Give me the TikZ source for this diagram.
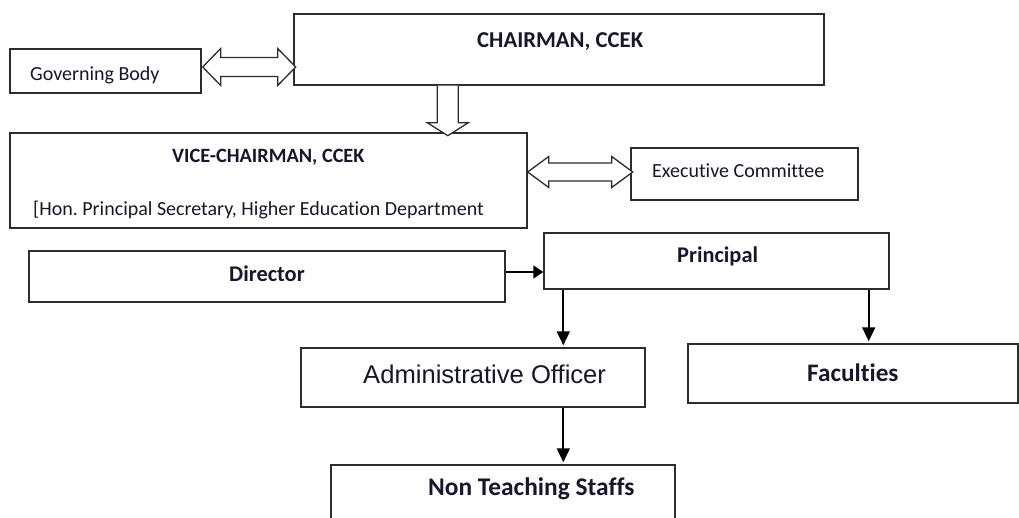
\documentclass[tikz,border=0pt]{standalone}
\usepackage{fontspec}
\setmainfont{Carlito}[Ligatures=NoCommon]
\newfontfamily\arialf{Liberation Sans}
\usetikzlibrary{arrows.meta,calc}
\definecolor{txt}{RGB}{22,22,45}
\definecolor{ln}{RGB}{45,45,45}
\frenchspacing
\begin{document}
\begin{tikzpicture}[x=1pt,y=-1pt,
  box/.style={draw=ln,line width=1.4pt,rectangle,inner sep=0pt,fill=white},
  lbl/.style={inner sep=0pt,anchor=base west,text=txt,font=\fontsize{20}{24}\selectfont},
  blbl/.style={lbl,font=\fontsize{#1}{24}\selectfont\bfseries},
  fat/.style={draw=ln,line width=1.3pt,fill=white},
  conn/.style={draw=black,line width=1.8pt,-{Triangle[length=14pt,width=13pt]}}]
\useasboundingbox (0,0) rectangle (1019,518);
\clip (0,0) rectangle (1019,518);
% boxes
\node[box,minimum width=191,minimum height=44] (gb) at (105.5,71) {};
\node[box,minimum width=530,minimum height=71] (ch) at (559,49.5) {};
\node[box,minimum width=517,minimum height=95] (vc) at (268.5,180.5) {};
\node[box,minimum width=227,minimum height=52] (ec) at (744.5,174) {};
\node[box,minimum width=476,minimum height=51] (dir) at (267,276.5) {};
\node[box,minimum width=345,minimum height=56] (pr) at (716.5,261) {};
\node[box,minimum width=344,minimum height=59] (ao) at (473,377.5) {};
\node[box,minimum width=330,minimum height=59] (fa) at (853,373.5) {};
\node[box,minimum width=344,minimum height=80] (nt) at (503,505) {};
% texts
\node[lbl] (tgb) at (30,81) {Governing Body};
\node[blbl=22.7] (tch) at (477,48) {CHAIRMAN, CCEK};
\node[blbl=20.3] (tvc) at (172,163) {VICE-CHAIRMAN, CCEK};
\node[lbl] (tvc2) at (33,216) {[Hon. Principal Secretary, Higher Education Department};
\node[lbl] (tec) at (652,178) {Executive Committee};
\node[blbl=22.4] (tdir) at (229,282) {Director};
\node[blbl=22.4] (tpr) at (677,263) {Principal};
\node[lbl,font=\arialf\fontsize{25.6}{30}\selectfont] (tao) at (363,383) {Administrative Officer};
\node[blbl=25.2] (tfa) at (807,381) {Faculties};
\node[blbl=25.4] (tnt) at (428,495) {Non Teaching Staffs};
% fat arrows
\draw[fat] ($(gb.east)+(1,-4)$) -- ++(18,-18.5) -- ++(0,9) -- ++(57,0) -- ++(0,-9) -- ++(18,18.5)
  -- ++(-18,18.5) -- ++(0,-9) -- ++(-57,0) -- ++(0,9) -- cycle;
\draw[fat] ($(ch.south west)+(144,0)$) -- ++(0,37) -- ++(-10,0) -- ++(20.5,13) -- ++(20.5,-13)
  -- ++(-10,0) -- ++(0,-37);
\draw[fat] ($(vc.east|-ec.west)+(0,-2)$) -- ++(21,-15.5) -- ++(0,6.5) -- ++(63,0) -- ++(0,-6.5) -- ++(21,15.5)
  -- ++(-21,15.5) -- ++(0,-6.5) -- ++(-63,0) -- ++(0,6.5) -- cycle;
% connectors
\coordinate (d1) at ([yshift=4.5pt]dir.east);
\draw[conn,line width=1.5pt,-{Triangle[length=10pt,width=13pt]}] (d1) -- (d1 -| pr.west);
\coordinate (p1) at ([xshift=20pt]pr.south west);
\coordinate (p2) at ([xshift=-21pt]pr.south east);
\draw[conn] (p1) -- ([yshift=2pt]p1 |- ao.north);
\draw[conn] (p2) -- ([yshift=2pt]p2 |- fa.north);
\draw[conn] (p1 |- ao.south) -- ([yshift=2pt]p1 |- nt.north);
\end{tikzpicture}
\end{document}
